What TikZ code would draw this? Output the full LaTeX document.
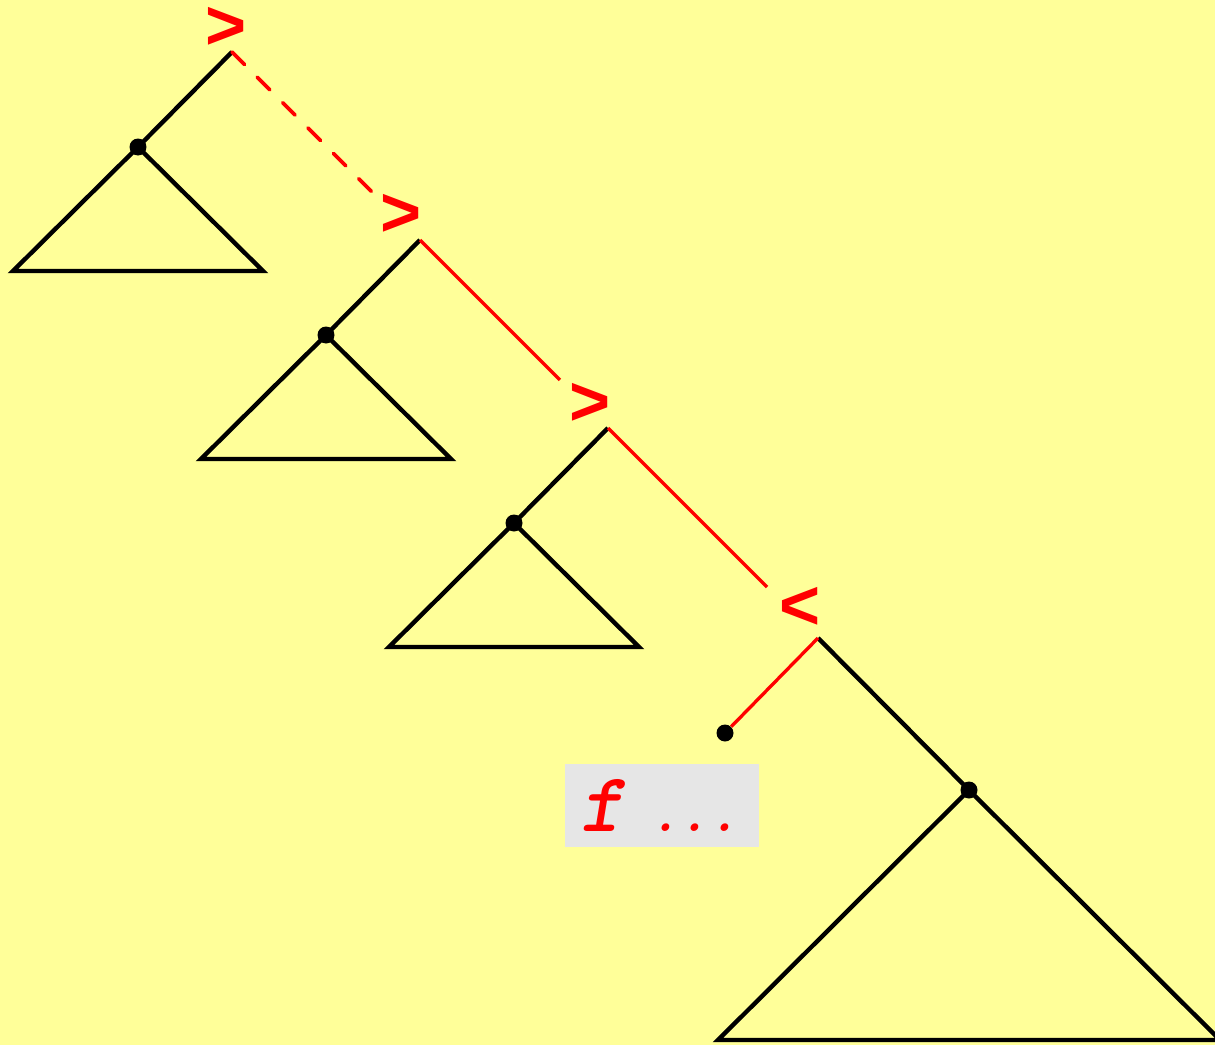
\documentclass[tikz,border=0pt]{standalone}
\usepackage{xcolor}
\usepackage{tikz}
\usepackage{fontspec}
\setmainfont{Liberation Sans}
\newfontfamily\insfont{lmmonolt10-boldoblique.otf}
\usetikzlibrary{positioning, calc}
\definecolor{bgyellow}{HTML}{FFFF99}
\definecolor{cmpred}{HTML}{FF0000}
\definecolor{boxgray}{HTML}{E6E6E6}

\begin{document}
\begin{tikzpicture}[
    x=0.02cm, y=-0.02cm,
    tree/.style={draw=black, line width=2.5pt, line join=miter},
    redline/.style={draw=cmpred, line width=1.9pt},
    dot/.style={circle, fill=black, inner sep=0pt, minimum size=0.34cm},
    cmp/.style={text=cmpred, font=\fontsize{40}{40}\selectfont\bfseries, inner sep=0pt},
]
    % Background
    \path[use as bounding box, fill=bgyellow] (0,0) rectangle (1215,1045);

    % Comparison marks
    \node[cmp] (cmp1) at (226,28) {>};
    \node[cmp] (cmp2) at (401,215) {>};
    \node[cmp] (cmp3) at (590,404) {>};
    \node[cmp] (cmp4) at (800,608) {<};

    % Left subtrees
    \foreach \i [count=\n] in {0,1,2} {
        \coordinate (root\n) at (232+188*\i, 52+188*\i);
        \draw[tree] (root\n) -- ($(root\n)+(-94,95)$) coordinate (top\n);
        \draw[tree] ($(top\n)+(-125,124)$) -- (top\n) -- ($(top\n)+(125,124)$) -- cycle;
        \node[dot] (sub\n) at (top\n) {};
    }

    % Last step
    \coordinate (root4) at (818,638);
    \node[dot] (leaf) at ($(root4)+(-93,95)$) {};
    \coordinate (bigtop) at ($(root4)+(151,152)$);
    \draw[tree] (root4) -- (bigtop);
    \draw[tree] ($(bigtop)+(-251,250)$) -- (bigtop) -- ($(bigtop)+(251,250)$) -- cycle;
    \node[dot] (big) at (bigtop) {};

    % Search path
    \draw[redline, line width=2.2pt, dash pattern=on 10pt off 10.4pt, line cap=round,
          shorten >=1.36cm] (root1) -- (root2);
    \draw[redline, shorten >=1.36cm] (root2) -- (root3);
    \draw[redline, shorten >=1.44cm] (root3) -- (root4);
    \draw[redline] (root4) -- (leaf);

    % Insert box
    \node[fill=boxgray, anchor=west, text width=3.28cm, inner xsep=0.3cm,
          minimum height=1.66cm, align=left, text=cmpred, font=\insfont]
        (fbox) at (565,805.5)
        {{\fontsize{48}{48}\selectfont f}{\fontsize{32}{32}\selectfont\ \hspace{0.4cm}...}};
\end{tikzpicture}
\end{document}
